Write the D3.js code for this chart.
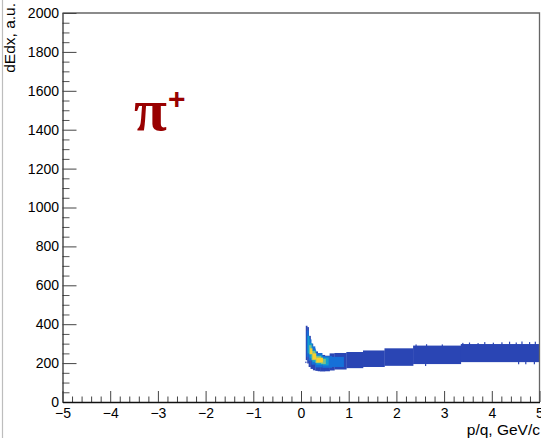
<!DOCTYPE html>
<html>
<head>
<meta charset="utf-8">
<script src="https://cdn.jsdelivr.net/npm/d3@7"></script>
<style>
  html, body { margin: 0; padding: 0; background: #fff; }
  svg { display: block; }
  text { font-family: "Liberation Sans", Arial, Helvetica, sans-serif; }
</style>
</head>
<body>
<svg id="chart" width="541" height="438"></svg>
<script>
// Momentum axis range and dE/dx axis range
const xDomain = [-5, 5];
const yDomain = [0, 2000];
const xMajorTicks = [-5, -4, -3, -2, -1, 0, 1, 2, 3, 4, 5];
const yMajorTicks = [0, 200, 400, 600, 800, 1000, 1200, 1400, 1600, 1800, 2000];

// Colour palette (bird-like) for the occupancy levels
const levelColors = ["#2a45b4", "#1670d8", "#129fcf", "#7cc08a", "#f7d12e"];

// Main band envelope: momentum bin edges and dE/dx extent per column
const bandP0 = [0.10, 0.13, 0.16, 0.20, 0.25, 0.30, 0.35, 0.40, 0.50, 0.60, 0.70, 0.95, 1.30, 1.75, 2.35, 3.35];
const bandP1 = [0.13, 0.16, 0.20, 0.25, 0.30, 0.35, 0.40, 0.50, 0.60, 0.70, 0.95, 1.30, 1.75, 2.35, 3.35, 5.00];
const bandLo = [215, 198, 180, 170, 163, 160, 158, 157, 158, 162, 167, 174, 180, 186, 195, 205];
const bandHi = [392, 385, 340, 300, 275, 260, 250, 242, 238, 250, 252, 257, 265, 276, 290, 298];

// Denser cells near the low-momentum minimum (level indexes into levelColors)
const coreP0 = [0.12, 0.16, 0.22, 0.30, 0.45, 0.65, 0.14, 0.18, 0.24, 0.32, 0.45, 0.17, 0.22, 0.30, 0.42, 0.19, 0.24, 0.32];
const coreP1 = [0.16, 0.22, 0.30, 0.45, 0.65, 0.90, 0.18, 0.24, 0.32, 0.45, 0.58, 0.22, 0.30, 0.42, 0.52, 0.24, 0.32, 0.46];
const coreLo = [232, 212, 192, 178, 176, 180, 250, 225, 205, 192, 188, 245, 215, 200, 195, 246, 218, 203];
const coreHi = [368, 322, 286, 252, 236, 232, 340, 302, 266, 240, 228, 292, 262, 236, 222, 276, 250, 228];
const coreLevel = [1, 1, 1, 1, 1, 1, 2, 2, 2, 2, 2, 3, 3, 3, 3, 4, 4, 4];

// Sparse cells poking out of the band edges (momentum, dE/dx range)
const speckP = [0.09, 2.40, 2.62, 2.95, 3.38, 3.52, 3.70, 3.84, 4.02, 4.20, 4.36, 4.50, 4.62, 4.78, 4.90, 2.60, 4.55, 4.70, 4.88];
const speckLo = [200, 286, 286, 286, 294, 294, 294, 294, 294, 294, 294, 294, 294, 294, 294, 185, 194, 194, 194];
const speckHi = [208, 296, 297, 296, 304, 306, 303, 308, 305, 307, 310, 306, 311, 308, 310, 198, 208, 208, 208];

const svg = d3.select("#chart");
const x = d3.scaleLinear().domain(xDomain).range([62.5, 539.5]);
const y = d3.scaleLinear().domain(yDomain).range([402, 13]);
const color = d3.scaleOrdinal().domain(d3.range(levelColors.length)).range(levelColors);

// Canvas edge line
svg.append("line").attr("x1", 2.5).attr("x2", 2.5).attr("y1", 0).attr("y2", 438)
  .attr("stroke", "#bdbdbd").attr("stroke-width", 1.2);

const plot = svg.append("g");

// Band body
plot.selectAll("rect.band").data(d3.range(bandP0.length)).join("rect")
  .attr("class", "band")
  .attr("x", i => x(bandP0[i]))
  .attr("width", i => x(bandP1[i]) - x(bandP0[i]) + 0.3)
  .attr("y", i => y(bandHi[i]))
  .attr("height", i => y(bandLo[i]) - y(bandHi[i]))
  .attr("fill", color(0));

// Sparse cells
plot.selectAll("rect.speck").data(d3.range(speckP.length)).join("rect")
  .attr("class", "speck")
  .attr("x", i => x(speckP[i]))
  .attr("width", i => x(speckP[i] + 0.025) - x(speckP[i]))
  .attr("y", i => y(speckHi[i]))
  .attr("height", i => y(speckLo[i]) - y(speckHi[i]))
  .attr("fill", color(0));

// Dense core
plot.selectAll("rect.core").data(d3.range(coreP0.length)).join("rect")
  .attr("class", "core")
  .attr("x", i => x(coreP0[i]))
  .attr("width", i => x(coreP1[i]) - x(coreP0[i]))
  .attr("y", i => y(coreHi[i]))
  .attr("height", i => y(coreLo[i]) - y(coreHi[i]))
  .attr("fill", i => color(coreLevel[i]));

// Frame (top and right)
svg.append("path")
  .attr("d", `M${x(-5)},${y(2000)}H${x(5)}V${y(0)}`)
  .attr("fill", "none").attr("stroke", "#666").attr("stroke-width", 1.3);

// Y axis: major ticks with labels, minor ticks every 50
const yMinor = d3.range(0, 2001, 50).filter(v => v % 200 !== 0);
svg.append("g").attr("transform", `translate(${x(-5)},0)`)
  .call(d3.axisLeft(y).tickValues(yMinor).tickSize(-7).tickSizeOuter(0).tickFormat(""))
  .call(g => g.select(".domain").remove())
  .call(g => g.selectAll("line").attr("stroke", "#555"));
svg.append("g").attr("transform", `translate(${x(-5)},0)`)
  .call(d3.axisLeft(y).tickValues(yMajorTicks).tickSize(-14).tickSizeOuter(0).tickPadding(3.5).tickFormat(d3.format("d")))
  .call(g => g.select(".domain").attr("stroke", "#222").attr("stroke-width", 1.2))
  .call(g => g.selectAll("line").attr("stroke", "#444"))
  .call(g => g.selectAll("text").attr("font-size", 14).attr("fill", "#000")
    .attr("font-family", "'Liberation Sans', Arial, sans-serif"));

// X axis: major ticks every 1, minor every 0.2
const xMinor = d3.range(-50, 51, 2).map(v => v / 10).filter(v => Math.abs(v - Math.round(v)) > 1e-6);
svg.append("g").attr("transform", `translate(0,${y(0)})`)
  .call(d3.axisBottom(x).tickValues(xMinor).tickSize(-5.5).tickSizeOuter(0).tickFormat(""))
  .call(g => g.select(".domain").remove())
  .call(g => g.selectAll("line").attr("stroke", "#444"));
svg.append("g").attr("transform", `translate(0,${y(0)})`)
  .call(d3.axisBottom(x).tickValues(xMajorTicks).tickSize(-11).tickSizeOuter(0).tickPadding(6).tickFormat(d3.format("d")))
  .call(g => g.select(".domain").attr("stroke", "#111").attr("stroke-width", 1.3))
  .call(g => g.selectAll("line").attr("stroke", "#444"))
  .call(g => g.selectAll("text").attr("font-size", 14).attr("fill", "#000")
    .attr("font-family", "'Liberation Sans', Arial, sans-serif"));

// Axis titles
svg.append("text").attr("x", 540).attr("y", 435).attr("text-anchor", "end")
  .attr("font-size", 15.5).attr("fill", "#000").text("p/q, GeV/c");
svg.append("text").attr("transform", "translate(15,3) rotate(-90)").attr("text-anchor", "end")
  .attr("font-size", 15.5).attr("fill", "#000").text("dEdx, a.u.");

// Particle label
const lbl = svg.append("text").attr("x", 134).attr("y", 130).attr("fill", "#990000");
lbl.append("tspan").attr("font-family", "'Liberation Serif', 'DejaVu Serif', serif")
  .attr("font-weight", "bold").attr("font-size", 60).text("π");
lbl.append("tspan").attr("font-family", "'Liberation Sans', Arial, sans-serif")
  .attr("font-weight", "bold").attr("font-size", 30).attr("dx", 1).attr("dy", -21).text("+");
</script>
</body>
</html>
